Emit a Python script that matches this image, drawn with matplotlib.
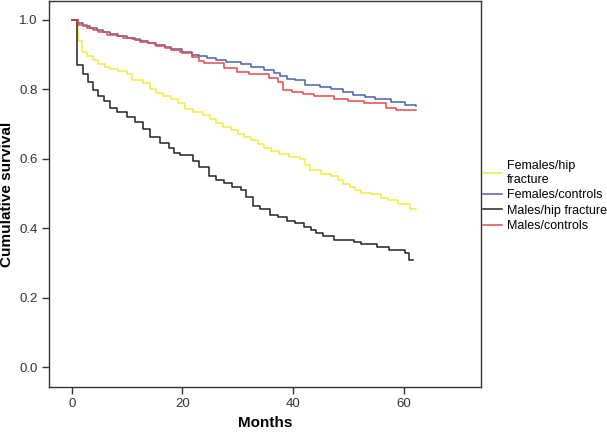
import matplotlib
matplotlib.use("Agg")
import matplotlib.pyplot as plt

plt.rcParams['font.family'] = ['Liberation Sans', 'DejaVu Sans']

# Kaplan-Meier step data (months, cumulative survival)
fem_hip_t = [0, 1.2, 1.8, 2.7, 3.9, 4.8, 6.0, 6.9, 8.4, 9.9, 10.8, 12.9, 14.1, 15.3, 16.5, 18.0,
             19.2, 20.4, 21.9, 23.7, 24.9, 26.1, 27.3, 28.8, 30.0, 31.2, 32.4, 33.6, 34.8, 36.0,
             37.5, 39.3, 41.2, 42.1, 43.0, 45.1, 46.9, 48.1, 49.0, 50.2, 51.1, 52.3, 54.1, 55.9,
             57.1, 58.9, 61.0, 62.2]
fem_hip_s = [1.0, 0.94, 0.907, 0.897, 0.885, 0.873, 0.866, 0.859, 0.854, 0.845, 0.828, 0.818, 0.802,
             0.789, 0.782, 0.773, 0.76, 0.744, 0.734, 0.725, 0.716, 0.703, 0.693, 0.684, 0.672,
             0.663, 0.653, 0.644, 0.632, 0.624, 0.613, 0.605, 0.60, 0.581, 0.567, 0.557, 0.55,
             0.538, 0.529, 0.519, 0.511, 0.502, 0.498, 0.488, 0.481, 0.471, 0.457, 0.457]

fem_ctl_t = [0, 1.2, 2.1, 3.3, 4.5, 5.7, 6.9, 8.4, 9.9, 11.4, 12.6, 13.8, 15.0, 16.8, 18.0, 19.9,
             21.8, 23.0, 24.5, 26.1, 27.9, 30.5, 32.4, 34.8, 36.6, 37.6, 38.8, 40.3, 42.1, 44.8,
             46.9, 49.0, 50.8, 52.9, 54.7, 57.7, 60.1, 62.2]
fem_ctl_s = [1.0, 0.99, 0.984, 0.977, 0.971, 0.966, 0.96, 0.955, 0.948, 0.943, 0.938, 0.935, 0.929,
             0.923, 0.917, 0.907, 0.90, 0.895, 0.89, 0.885, 0.878, 0.872, 0.864, 0.855, 0.847,
             0.84, 0.83, 0.826, 0.814, 0.808, 0.802, 0.792, 0.784, 0.778, 0.771, 0.763, 0.756, 0.753]

male_hip_t = [0, 1.0, 2.1, 2.9, 3.9, 4.8, 5.9, 6.9, 8.1, 9.9, 11.4, 12.9, 14.1, 15.9, 17.5, 18.5,
              19.5, 21.9, 23.0, 24.8, 26.0, 27.5, 29.0, 30.5, 31.5, 32.8, 34.0, 35.8, 37.3, 38.8,
              40.3, 42.0, 43.2, 44.1, 45.3, 47.4, 51.0, 52.2, 55.2, 57.3, 60.1, 60.9, 61.7]
male_hip_s = [1.0, 0.869, 0.845, 0.821, 0.797, 0.782, 0.766, 0.747, 0.734, 0.72, 0.706, 0.687, 0.663,
              0.645, 0.63, 0.618, 0.61, 0.594, 0.578, 0.55, 0.54, 0.53, 0.52, 0.51, 0.49, 0.465,
              0.455, 0.438, 0.432, 0.421, 0.414, 0.404, 0.395, 0.388, 0.377, 0.366, 0.361, 0.356,
              0.345, 0.337, 0.329, 0.308, 0.308]

male_ctl_t = [0, 1.2, 2.7, 3.9, 4.8, 6.3, 8.1, 9.3, 10.8, 12.3, 13.8, 15.3, 16.8, 18.0, 19.5, 20.0,
              21.8, 23.0, 23.9, 27.5, 29.9, 32.0, 35.6, 37.2, 38.2, 39.7, 41.8, 43.7, 47.3, 49.9,
              52.7, 56.8, 58.6, 62.2]
male_ctl_s = [1.0, 0.986, 0.978, 0.97, 0.965, 0.958, 0.953, 0.947, 0.944, 0.937, 0.933, 0.925, 0.919,
              0.913, 0.909, 0.905, 0.894, 0.881, 0.875, 0.862, 0.85, 0.843, 0.832, 0.821, 0.799,
              0.792, 0.786, 0.782, 0.771, 0.767, 0.76, 0.746, 0.741, 0.741]

fig = plt.figure(figsize=(6.07, 4.32), dpi=100)
ax = fig.add_axes([0.0807, 0.104, 0.7117, 0.894])

ax.step(fem_hip_t, fem_hip_s, where='post', color='#eeee44', lw=1.1, label='Females/hip\nfracture')
ax.step(fem_ctl_t, fem_ctl_s, where='post', color='#4a62b0', lw=1.1, label='Females/controls')
ax.step(male_hip_t, male_hip_s, where='post', color='#222222', lw=1.1, label='Males/hip fracture')
ax.step(male_ctl_t, male_ctl_s, where='post', color='#e84848', lw=1.1, label='Males/controls')

ax.set_xlim(-4.1, 73.9)
ax.set_ylim(-0.057, 1.055)
ax.set_xticks([0, 20, 40, 60])
ax.set_yticks([0.0, 0.2, 0.4, 0.6, 0.8, 1.0])
ax.set_yticklabels(['0.0', '0.2', '0.4', '0.6', '0.8', '1.0'])
ax.tick_params(direction='out', length=5, width=1, colors='#333333', labelsize=9.5, pad=3)

for s in ax.spines.values():
    s.set_color('#333333')
    s.set_linewidth(1)

ax.set_xlabel('Months', fontsize=11, fontweight='bold', labelpad=4)
ax.set_ylabel('Cumulative survival', fontsize=11, fontweight='bold', labelpad=4)

ax.legend(loc='upper left', bbox_to_anchor=(1.005, 0.588), frameon=False, fontsize=9,
          borderaxespad=0, borderpad=0, handlelength=1.5, handletextpad=0.4, labelspacing=0.28)

fig.savefig('out.png', dpi=100)
